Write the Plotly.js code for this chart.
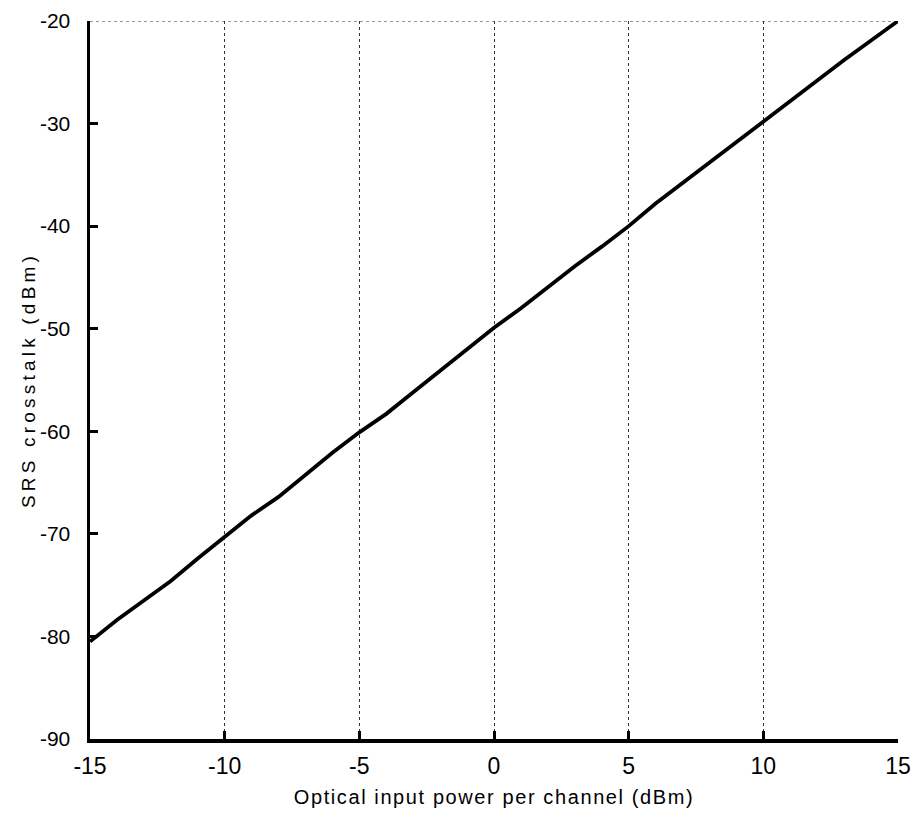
<!DOCTYPE html>
<html>
<head>
<meta charset="utf-8">
<script src="https://cdn.plot.ly/plotly-3.0.1.min.js"></script>
<style>
html,body{margin:0;padding:0;background:#fff;}
#chart{width:918px;height:813px;}
#chart .g-xtitle text{letter-spacing:1.6px;}
#chart .g-ytitle text{letter-spacing:4.2px;}
</style>
</head>
<body>
<div id="chart"></div>
<script>
var powerIn = [-15, -14, -13, -12, -11, -10, -9, -8, -7, -6, -5, -4, -3, -2, -1, 0, 1, 2, 3, 4, 5, 6, 7, 8, 9, 10, 11, 12, 13, 14, 15];
var srsCrosstalk = [-80.5, -78.4, -76.5, -74.6, -72.4, -70.3, -68.2, -66.4, -64.2, -62.1, -60.1, -58.3, -56.2, -54.1, -52.0, -49.9, -48.0, -45.9, -43.9, -42.0, -40.0, -37.8, -35.8, -33.8, -31.8, -29.7, -27.8, -25.8, -23.8, -21.9, -20.0];
var xTicks = [-15, -10, -5, 0, 5, 10, 15];
var yTicks = [-90, -80, -70, -60, -50, -40, -30, -20];

var font = {family: 'Liberation Sans, Arial, sans-serif', color: '#000'};
var data = [{
  x: powerIn, y: srsCrosstalk, type: 'scatter', mode: 'lines',
  line: {color: '#000', width: 3.8}, hoverinfo: 'skip'
}];
var layout = {
  width: 918, height: 813,
  margin: {l: 90, r: 20, t: 21, b: 74},
  paper_bgcolor: '#fff', plot_bgcolor: '#fff',
  showlegend: false,
  font: Object.assign({size: 21}, font),
  xaxis: {
    range: [-15, 15], tickvals: xTicks, ticktext: xTicks.map(String),
    showline: true, linecolor: '#000', linewidth: 3.5,
    ticks: 'inside', ticklen: 8, tickwidth: 3, tickcolor: '#000',
    showgrid: true, gridcolor: '#333', griddash: 'dot', gridwidth: 1,
    zeroline: false, ticklabelstandoff: 4,
    tickfont: Object.assign({size: 23}, font),
    title: {text: 'Optical input power per channel (dBm)', font: Object.assign({size: 20}, font), standoff: 13}
  },
  yaxis: {
    range: [-90, -20], tickvals: yTicks, ticktext: yTicks.map(String),
    showline: true, linecolor: '#000', linewidth: 3.5,
    ticks: 'inside', ticklen: 8, tickwidth: 3, tickcolor: '#000',
    showgrid: false, zeroline: false, ticklabelstandoff: 12,
    tickfont: Object.assign({size: 21}, font),
    title: {text: 'SRS crosstalk (dBm)', font: Object.assign({size: 19}, font), standoff: 0}
  },
  shapes: [{
    type: 'line', xref: 'paper', yref: 'y', x0: 0, x1: 1, y0: -20, y1: -20,
    line: {color: '#333', width: 1, dash: 'dot'}, layer: 'below'
  }]
};
Plotly.newPlot('chart', data, layout, {staticPlot: true, displayModeBar: false});
</script>
</body>
</html>
